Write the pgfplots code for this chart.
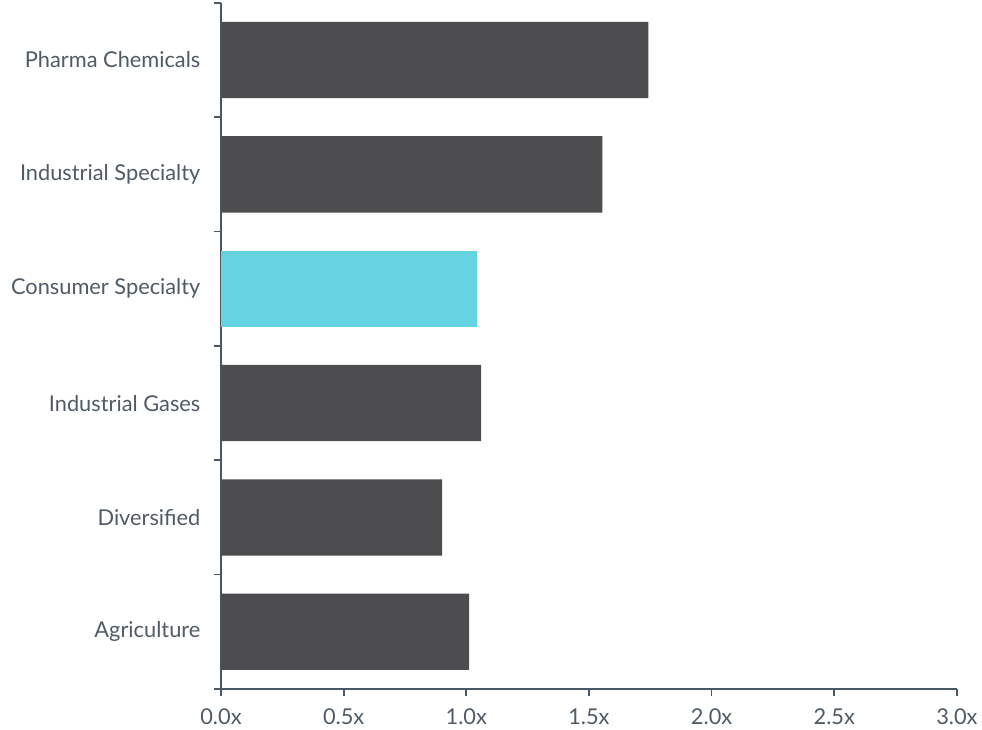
\documentclass[border=0pt]{standalone}
\usepackage{pgfplots}
\pgfplotsset{compat=1.18}
\usepackage{fontspec}
\setmainfont{Lato}
\definecolor{barDark}{HTML}{4D4D4F}
\definecolor{barCyan}{HTML}{66D3E0}
\definecolor{axisC}{HTML}{4A5866}
\definecolor{textC}{HTML}{4F5B66}
\begin{document}
\begin{tikzpicture}
\begin{axis}[
  scale only axis,
  width=554pt, height=516.5pt,
  xmin=0, xmax=3,
  ymin=-0.5, ymax=5.5,
  axis lines*=left,
  axis line style={axisC, line width=1.3pt},
  every tick/.style={axisC, line width=1.3pt},
  xtick={0,0.5,...,3},
  xticklabel={\pgfmathprintnumber[fixed,fixed zerofill,precision=1]{\tick}x},
  /pgf/number format/assume math mode=true,
  xtick align=outside,
  major tick length=5pt,
  ytick={0,1,2,3,4,5},
  yticklabels={Agriculture,Diversified,Industrial Gases,Consumer Specialty,Industrial Specialty,Pharma Chemicals},
  major y tick style={draw=none},
  minor ytick={-0.5,0.5,...,5.5},
  minor tick length=5pt,
  ytick align=outside,
  yticklabel style={xshift=-7pt},
  xticklabel style={yshift=-6.5pt},
  tick label style={font=\fontsize{16.4}{19}\selectfont, text=textC},
  xbar, bar width=0.667, bar shift=0,
  clip=false,
]
\addplot[fill=barDark, draw=none] coordinates {(1.011,0) (0.901,1) (1.060,2) (1.555,4) (1.742,5)};
\addplot[fill=barCyan, draw=none] coordinates {(1.045,3)};
\end{axis}
\path ([xshift=-5pt]current bounding box.west) ([yshift=1.5pt]current bounding box.north);
\end{tikzpicture}
\end{document}
